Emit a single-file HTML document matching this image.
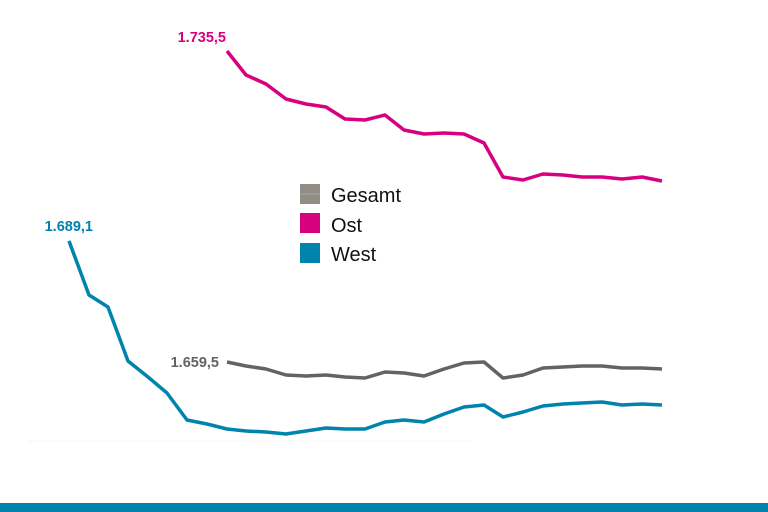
<!DOCTYPE html><html><head><meta charset="utf-8"><style>body{margin:0;background:#fff}svg{display:block}text{font-family:"Liberation Sans",sans-serif}</style></head><body>
<svg width="768" height="512" viewBox="0 0 768 512">
<rect width="768" height="512" fill="#fff"/>
<line x1="28" y1="441" x2="472" y2="441" stroke="#f6f6f6" stroke-width="1"/>
<polyline fill="none" stroke="#d7007f" stroke-width="3.5" stroke-linejoin="round" points="227,51 246,75 266,84 286,99 306,104 326,107 345,119 365,120 385,115 404,130 424,134 444,133 464,134 484,143 503,177 523,180 543,174 563,175 582,177 602,177 622,179 642,177 662,181"/>
<polyline fill="none" stroke="#636363" stroke-width="3.5" stroke-linejoin="round" points="227,362 246,366 266,369 286,375 306,376 326,375 345,377 365,378 385,372 404,373 424,376 444,369 464,363 484,362 503,378 523,375 543,368 563,367 582,366 602,366 622,368 642,368 662,369"/>
<polyline fill="none" stroke="#0083ad" stroke-width="3.5" stroke-linejoin="round" points="69,241 89,295 108,307 128,361 148,377 167,393 187,420 207,424 227,429 246,431 266,432 286,434 306,431 326,428 345,429 365,429 385,422 404,420 424,422 444,414 464,407 484,405 503,417 523,412 543,406 563,404 582,403 602,402 622,405 642,404 662,405"/>
<text x="226" y="42" text-anchor="end" font-size="14.5" font-weight="bold" fill="#d7007f">1.735,5</text>
<text x="93" y="231" text-anchor="end" font-size="14.5" font-weight="bold" fill="#0083ad">1.689,1</text>
<text x="219" y="367" text-anchor="end" font-size="14.5" font-weight="bold" fill="#636363">1.659,5</text>
<rect x="300" y="184" width="20" height="20" fill="#8f8d84"/>
<line x1="300" y1="194" x2="320" y2="194" stroke="#a9a79f" stroke-width="1"/>
<rect x="300" y="213" width="20" height="20" fill="#d7007f"/>
<rect x="300" y="243" width="20" height="20" fill="#0083ad"/>
<text x="331" y="202" font-size="20" fill="#111">Gesamt</text>
<text x="331" y="232" font-size="20" fill="#111">Ost</text>
<text x="331" y="261" font-size="20" fill="#111">West</text>
<rect x="0" y="503" width="768" height="9" fill="#0083ad"/>
</svg></body></html>
